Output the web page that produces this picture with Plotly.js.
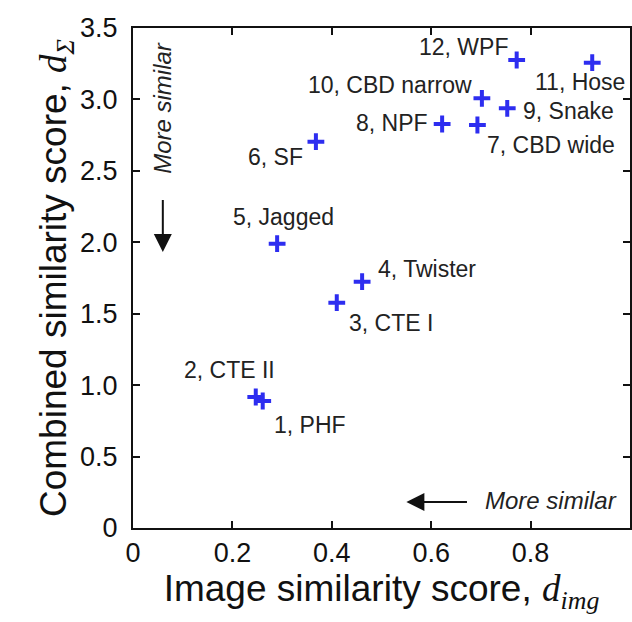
<!DOCTYPE html>
<html><head><meta charset="utf-8">
<script src="https://cdn.plot.ly/plotly-3.0.1.min.js"></script>
<style>html,body{margin:0;padding:0;background:#fff}#c{width:632px;height:622px}</style>
</head><body><div id="c"></div>
<script>
const labels = ["1, PHF","2, CTE II","3, CTE I","4, Twister","5, Jagged","6, SF","7, CBD wide","8, NPF","9, Snake","10, CBD narrow","11, Hose","12, WPF"];
const dImg = [0.261,0.247,0.410,0.461,0.290,0.368,0.693,0.622,0.753,0.702,0.924,0.772];
const dSigma = [0.889,0.917,1.577,1.724,1.990,2.704,2.821,2.828,2.938,3.008,3.257,3.276];
const xTickVals = [0,0.2,0.4,0.6,0.8,1];
const xTickText = ["0","0.2","0.4","0.6","0.8","1"];
const yTickVals = [0,0.5,1,1.5,2,2.5,3,3.5];
const yTickText = ["0","0.5","1.0","1.5","2.0","2.5","3.0","3.5"];

// label placement (anchor, x shift, y shift in px)
const place = [
  ["left",9,-24],["right",21,27],["left",10,-20],["left",14,13],
  ["center",6,27],["right",-11,-15],["left",8,-20],["right",-12,1],
  ["left",14,-3],["right",-8,13],["right",35,-19],["right",-7,13]
];
const font = "Liberation Sans, Arial, Helvetica, sans-serif";
const ann = labels.map((t,i)=>({
  x:dImg[i], y:dSigma[i], xref:'x', yref:'y', text:t, showarrow:false,
  xanchor:place[i][0], yanchor:'middle', xshift:place[i][1], yshift:place[i][2],
  font:{family:font,size:23,color:'#222'}
}));
ann.push({x:0.06,y:1.932,ax:0.06,ay:2.366,axref:'x',ayref:'y',xref:'x',yref:'y',text:' ',showarrow:true,arrowhead:2,arrowsize:1.8,arrowwidth:2,arrowcolor:'#111'});
ann.push({x:0.55,y:0.182,ax:0.678,ay:0.182,axref:'x',ayref:'y',xref:'x',yref:'y',text:' ',showarrow:true,arrowhead:2,arrowsize:1.8,arrowwidth:2,arrowcolor:'#111'});
ann.push({x:0.058,y:2.94,xref:'x',yref:'y',text:'<i>More similar</i>',showarrow:false,textangle:-90,font:{family:font,size:24,color:'#222'}});
ann.push({x:0.841,y:0.196,xref:'x',yref:'y',text:'<i>More similar</i>',showarrow:false,font:{family:font,size:24,color:'#222'}});

const trace = {x:dImg,y:dSigma,mode:'markers',type:'scatter',
  marker:{symbol:'cross-thin',size:12,line:{width:4,color:'#2d2df0'},color:'#2d2df0'}};
const ax = {showgrid:false,zeroline:false,showline:true,linecolor:'#111',linewidth:2,mirror:'ticks',
  ticks:'inside',ticklen:7,tickwidth:2,tickcolor:'#111',tickfont:{family:font,size:27,color:'#111'},tickmode:'array'};
const layout = {
  width:632,height:622,margin:{l:133,r:2,t:28,b:94},paper_bgcolor:'#fff',plot_bgcolor:'#fff',showlegend:false,
  xaxis:Object.assign({},ax,{range:[0,1],tickvals:xTickVals,ticktext:xTickText,
    title:{text:'Image similarity score, <span style="font-family:Liberation Serif,Times New Roman,serif"><i>d<sub>img</sub></i></span>',font:{family:font,size:37,color:'#111'},standoff:6}}),
  yaxis:Object.assign({},ax,{range:[0,3.5],tickvals:yTickVals,ticktext:yTickText,ticklabelstandoff:8,
    title:{text:'Combined similarity score, <span style="font-family:Liberation Serif,Times New Roman,serif"><i>d<sub>Σ</sub></i></span>',font:{family:font,size:37,color:'#111'},standoff:0}}),
  annotations:ann
};
Plotly.newPlot('c',[trace],layout,{staticPlot:true,displayModeBar:false});
</script></body></html>
